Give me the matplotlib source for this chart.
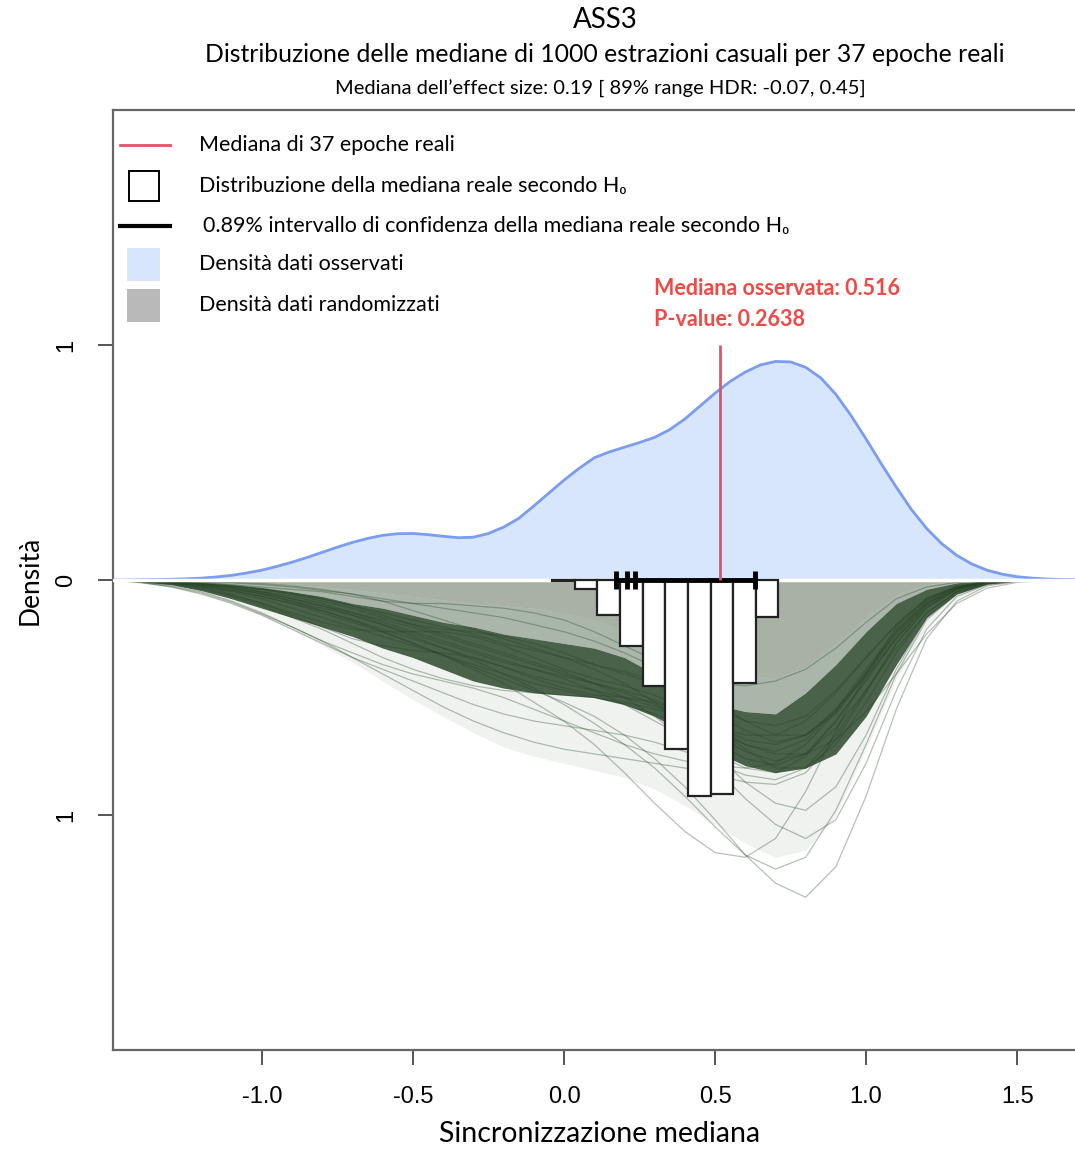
import matplotlib
matplotlib.use("Agg")
import matplotlib.pyplot as plt
from matplotlib.lines import Line2D
from matplotlib.patches import Rectangle

plt.rcParams['font.family'] = ['Lato', 'DejaVu Sans']

# observed density (top half)
obs_x = [-1.50, -1.45, -1.40, -1.35, -1.30, -1.25, -1.20, -1.15, -1.10, -1.05,
         -1.00, -0.95, -0.90, -0.85, -0.80, -0.75, -0.70, -0.65, -0.60, -0.55,
         -0.50, -0.45, -0.40, -0.35, -0.30, -0.25, -0.20, -0.15, -0.10, -0.05,
         0.00, 0.05, 0.10, 0.15, 0.20, 0.25, 0.30, 0.35, 0.40, 0.45,
         0.50, 0.55, 0.60, 0.65, 0.70, 0.75, 0.80, 0.85, 0.90, 0.95,
         1.00, 1.05, 1.10, 1.15, 1.20, 1.25, 1.30, 1.35, 1.40, 1.45,
         1.50, 1.55, 1.60, 1.65, 1.70]
obs_y = [0.000, 0.000, 0.001, 0.002, 0.003, 0.005, 0.008, 0.013, 0.020, 0.030,
         0.042, 0.058, 0.076, 0.096, 0.118, 0.140, 0.160, 0.177, 0.190, 0.197,
         0.198, 0.193, 0.186, 0.180, 0.182, 0.198, 0.225, 0.262, 0.315, 0.370,
         0.425, 0.475, 0.520, 0.545, 0.565, 0.585, 0.607, 0.640, 0.685, 0.740,
         0.795, 0.845, 0.885, 0.915, 0.930, 0.928, 0.905, 0.860, 0.790, 0.700,
         0.600, 0.495, 0.395, 0.300, 0.220, 0.155, 0.105, 0.068, 0.042, 0.025,
         0.014, 0.008, 0.004, 0.002, 0.001]

# randomized densities (drawn mirrored below zero)
rx = [-1.5, -1.4, -1.3, -1.2, -1.1, -1.0, -0.9, -0.8, -0.7, -0.6, -0.5,
      -0.4, -0.3, -0.2, -0.1, 0.0, 0.1, 0.2, 0.3, 0.4, 0.5, 0.6,
      0.7, 0.8, 0.9, 1.0, 1.1, 1.2, 1.3, 1.4, 1.5, 1.6, 1.7]
rand_top = [0, 0.001, 0.003, 0.006, 0.01, 0.015, 0.022, 0.03, 0.04, 0.055, 0.07,
            0.085, 0.10, 0.11, 0.12, 0.14, 0.17, 0.21, 0.26, 0.31, 0.36, 0.40,
            0.42, 0.37, 0.27, 0.16, 0.06, 0.02, 0.005, 0.001, 0, 0, 0]
core_hi = [0, 0.002, 0.006, 0.012, 0.02, 0.032, 0.05, 0.07, 0.10, 0.12, 0.15,
           0.18, 0.20, 0.23, 0.25, 0.27, 0.29, 0.33, 0.40, 0.47, 0.53, 0.56,
           0.57, 0.48, 0.36, 0.22, 0.10, 0.04, 0.012, 0.003, 0, 0, 0]
core_lo = [0, 0.008, 0.02, 0.045, 0.08, 0.12, 0.16, 0.20, 0.24, 0.29, 0.33,
           0.38, 0.43, 0.46, 0.48, 0.49, 0.50, 0.53, 0.58, 0.65, 0.73, 0.79,
           0.82, 0.80, 0.74, 0.58, 0.36, 0.16, 0.06, 0.018, 0.004, 0, 0]
rand_low = [0, 0.006, 0.02, 0.05, 0.09, 0.15, 0.21, 0.28, 0.35, 0.43, 0.51,
            0.58, 0.65, 0.71, 0.75, 0.78, 0.81, 0.84, 0.89, 0.96, 1.04, 1.12,
            1.18, 1.15, 1.00, 0.72, 0.42, 0.20, 0.08, 0.025, 0.007, 0.001, 0]

rand_curves = [
    [0, 0.002, 0.005, 0.01, 0.02, 0.03, 0.04, 0.05, 0.07, 0.09, 0.10, 0.10, 0.11, 0.12, 0.14, 0.17, 0.22,
     0.28, 0.34, 0.40, 0.44, 0.45, 0.43, 0.38, 0.29, 0.18, 0.08, 0.03, 0.01, 0.003, 0.001, 0, 0],
    [0, 0.004, 0.01, 0.02, 0.04, 0.06, 0.09, 0.12, 0.15, 0.19, 0.23, 0.27, 0.31, 0.35, 0.38, 0.41, 0.44,
     0.47, 0.51, 0.56, 0.62, 0.68, 0.70, 0.66, 0.55, 0.40, 0.23, 0.10, 0.035, 0.01, 0.002, 0, 0],
    [0, 0.006, 0.015, 0.03, 0.05, 0.08, 0.12, 0.16, 0.20, 0.24, 0.28, 0.32, 0.36, 0.40, 0.44, 0.47, 0.50,
     0.53, 0.57, 0.62, 0.69, 0.76, 0.79, 0.74, 0.60, 0.43, 0.25, 0.11, 0.04, 0.01, 0.003, 0, 0],
    [0, 0.01, 0.025, 0.05, 0.09, 0.14, 0.20, 0.26, 0.33, 0.40, 0.47, 0.54, 0.60, 0.65, 0.69, 0.72, 0.74,
     0.76, 0.78, 0.80, 0.83, 0.86, 0.87, 0.82, 0.68, 0.48, 0.27, 0.12, 0.04, 0.01, 0.003, 0, 0],
    [0, 0.004, 0.01, 0.02, 0.035, 0.06, 0.09, 0.13, 0.17, 0.22, 0.27, 0.32, 0.37, 0.42, 0.47, 0.52, 0.58,
     0.66, 0.76, 0.88, 1.02, 1.17, 1.29, 1.35, 1.22, 0.92, 0.55, 0.25, 0.09, 0.025, 0.006, 0.001, 0],
    [0, 0.005, 0.012, 0.025, 0.045, 0.07, 0.10, 0.14, 0.18, 0.22, 0.27, 0.32, 0.38, 0.44, 0.52, 0.60, 0.70,
     0.82, 0.95, 1.07, 1.16, 1.18, 1.10, 0.90, 0.64, 0.40, 0.20, 0.08, 0.025, 0.007, 0.002, 0, 0],
    [0, 0.005, 0.015, 0.03, 0.06, 0.10, 0.15, 0.20, 0.25, 0.28, 0.30, 0.31, 0.33, 0.37, 0.42, 0.46, 0.49,
     0.50, 0.52, 0.56, 0.63, 0.72, 0.80, 0.80, 0.70, 0.52, 0.31, 0.14, 0.05, 0.015, 0.004, 0, 0],
    [0, 0.001, 0.003, 0.006, 0.01, 0.015, 0.025, 0.04, 0.06, 0.09, 0.13, 0.17, 0.21, 0.25, 0.29, 0.33, 0.38,
     0.44, 0.52, 0.62, 0.74, 0.86, 0.95, 0.98, 0.88, 0.66, 0.38, 0.16, 0.05, 0.012, 0.003, 0, 0],
    [0, 0.008, 0.02, 0.04, 0.07, 0.11, 0.16, 0.21, 0.27, 0.33, 0.38, 0.42, 0.45, 0.47, 0.48, 0.49, 0.50,
     0.52, 0.55, 0.58, 0.62, 0.66, 0.66, 0.60, 0.48, 0.33, 0.19, 0.08, 0.03, 0.008, 0.002, 0, 0],
    [0, 0.003, 0.008, 0.016, 0.03, 0.05, 0.07, 0.10, 0.14, 0.18, 0.22, 0.26, 0.30, 0.34, 0.38, 0.42, 0.47,
     0.53, 0.60, 0.67, 0.74, 0.80, 0.82, 0.75, 0.60, 0.42, 0.24, 0.10, 0.035, 0.01, 0.002, 0, 0],
    [0, 0.003, 0.008, 0.016, 0.03, 0.05, 0.08, 0.11, 0.15, 0.19, 0.24, 0.29, 0.34, 0.40, 0.46, 0.53, 0.61,
     0.70, 0.80, 0.92, 1.05, 1.17, 1.23, 1.18, 0.98, 0.70, 0.40, 0.17, 0.06, 0.015, 0.004, 0, 0],
    [0, 0.003, 0.008, 0.015, 0.025, 0.04, 0.06, 0.08, 0.11, 0.14, 0.17, 0.20, 0.23, 0.27, 0.30, 0.33, 0.36,
     0.39, 0.43, 0.48, 0.54, 0.60, 0.62, 0.58, 0.47, 0.33, 0.19, 0.08, 0.03, 0.008, 0.002, 0, 0],
    [0, 0.002, 0.004, 0.008, 0.012, 0.02, 0.03, 0.045, 0.06, 0.08, 0.10, 0.12, 0.14, 0.16, 0.19, 0.22, 0.26,
     0.31, 0.37, 0.44, 0.52, 0.60, 0.66, 0.66, 0.57, 0.40, 0.22, 0.09, 0.03, 0.008, 0.002, 0, 0],
    [0, 0.006, 0.016, 0.035, 0.065, 0.10, 0.14, 0.18, 0.21, 0.22, 0.22, 0.22, 0.24, 0.28, 0.33, 0.38, 0.42,
     0.45, 0.49, 0.55, 0.63, 0.70, 0.73, 0.68, 0.55, 0.38, 0.21, 0.09, 0.03, 0.008, 0.002, 0, 0],
    [0, 0.002, 0.006, 0.012, 0.022, 0.036, 0.055, 0.08, 0.11, 0.15, 0.19, 0.23, 0.27, 0.31, 0.35, 0.39, 0.44,
     0.50, 0.58, 0.68, 0.80, 0.93, 1.04, 1.10, 1.02, 0.78, 0.47, 0.21, 0.07, 0.02, 0.005, 0.001, 0],
    [0, 0.012, 0.03, 0.06, 0.10, 0.15, 0.21, 0.27, 0.33, 0.38, 0.43, 0.48, 0.53, 0.57, 0.60, 0.62, 0.64,
     0.66, 0.69, 0.73, 0.78, 0.83, 0.85, 0.80, 0.66, 0.47, 0.27, 0.12, 0.04, 0.01, 0.002, 0, 0],
    [0, 0.004, 0.01, 0.02, 0.035, 0.055, 0.08, 0.11, 0.14, 0.17, 0.20, 0.24, 0.28, 0.32, 0.36, 0.40, 0.44,
     0.48, 0.53, 0.58, 0.64, 0.70, 0.74, 0.74, 0.68, 0.56, 0.40, 0.23, 0.10, 0.035, 0.01, 0.002, 0],
    [0, 0.003, 0.007, 0.014, 0.025, 0.04, 0.06, 0.09, 0.12, 0.16, 0.19, 0.21, 0.22, 0.24, 0.27, 0.31, 0.36,
     0.40, 0.44, 0.50, 0.57, 0.64, 0.69, 0.66, 0.56, 0.41, 0.25, 0.11, 0.04, 0.01, 0.002, 0, 0],
    [0, 0.01, 0.028, 0.055, 0.095, 0.145, 0.20, 0.26, 0.31, 0.36, 0.40, 0.43, 0.46, 0.50, 0.55, 0.60, 0.65,
     0.70, 0.74, 0.77, 0.79, 0.80, 0.78, 0.70, 0.56, 0.39, 0.22, 0.10, 0.035, 0.01, 0.002, 0, 0],
    [0, 0.005, 0.012, 0.025, 0.045, 0.07, 0.10, 0.13, 0.17, 0.21, 0.25, 0.29, 0.33, 0.37, 0.41, 0.44, 0.47,
     0.50, 0.54, 0.59, 0.66, 0.73, 0.77, 0.74, 0.63, 0.47, 0.29, 0.14, 0.05, 0.015, 0.004, 0, 0],
]

# histogram of medians under H0
hist_edges = [-0.04, 0.035, 0.11, 0.185, 0.26, 0.335, 0.41, 0.485, 0.56, 0.635, 0.71]
hist_heights = [0.005, 0.04, 0.15, 0.28, 0.45, 0.72, 0.92, 0.91, 0.44, 0.157]

ci_lo, ci_hi = 0.172, 0.632
ci_marks = [0.172, 0.209, 0.235, 0.632]
obs_median = 0.516
obs_median_top = 1.0

W, H = 1075, 1153
fig = plt.figure(figsize=(W / 100, H / 100), dpi=100)
ax = fig.add_axes([113 / W, 103 / H, 973 / W, 940 / H])

neg = lambda v: [-a for a in v]

ax.fill_between(obs_x, 0, obs_y, color='#d7e6fa', lw=0, zorder=1)
ax.plot(obs_x, obs_y, color='#7b9cf0', lw=2, zorder=2)

ax.fill_between(rx, 0, neg(rand_top), color='#a9b1a4', lw=0, zorder=1)
ax.fill_between(rx, neg(rand_top), neg(rand_low), color='#3c5a3c', alpha=0.08, lw=0, zorder=1.5)
ax.fill_between(rx, neg(rand_top), neg(core_hi), color='#2a472a', alpha=0.35, lw=0, zorder=1.5)
ax.fill_between(rx, neg(core_hi), neg(core_lo), color='#1c381c', alpha=0.78, lw=0, zorder=1.6)
for c in rand_curves:
    ax.plot(rx, neg(c), color='#234223', alpha=0.33, lw=0.9, zorder=2)

ax.axhline(0, color='white', lw=2.5, zorder=3)

widths = [b - a for a, b in zip(hist_edges[:-1], hist_edges[1:])]
ax.bar(hist_edges[:-1], neg(hist_heights), width=widths, align='edge',
       color='white', edgecolor='#222222', lw=1.6, zorder=4)

ax.hlines(0, ci_lo, ci_hi, color='black', lw=3.5, zorder=5)
ax.vlines(ci_marks, -0.04, 0.04, color='black', lw=3.5, zorder=5)

ax.vlines(obs_median, 0, obs_median_top, color='#e6506a', lw=2, zorder=6)
ax.text(0.298, 1.24, 'Mediana osservata: 0.516', color='#ef4a48', fontsize=15.5,
        fontweight='bold', va='center', ha='left')
ax.text(0.298, 1.11, 'P-value: 0.2638', color='#ef4a48', fontsize=15.5,
        fontweight='bold', va='center', ha='left')

ax.set_xlim(-1.493, 1.728)
ax.set_ylim(-2.0, 2.0)
ax.set_xticks([-1.0, -0.5, 0.0, 0.5, 1.0, 1.5])
ax.set_xticklabels(['-1.0', '-0.5', '0.0', '0.5', '1.0', '1.5'],
                   family='Liberation Sans', fontsize=17)
ax.set_yticks([-1, 0, 1])
ax.set_yticklabels(['1', '0', '1'], family='Liberation Sans', fontsize=17,
                   rotation=90, va='center')
ax.tick_params(direction='out', length=11, width=1.4, color='#555555', pad=15)
for s in ax.spines.values():
    s.set_color('#666666')
    s.set_linewidth(1.6)

ax.set_xlabel('Sincronizzazione mediana', fontsize=20.5, labelpad=9)
ax.set_ylabel('Densità', fontsize=19, labelpad=9)

fig.text(605 / W, 1 - 20 / H, 'ASS3', fontsize=20, ha='center', va='center')
fig.text(605 / W, 1 - 55 / H, 'Distribuzione delle mediane di 1000 estrazioni casuali per 37 epoche reali',
         fontsize=17.8, ha='center', va='center')
fig.text(600 / W, 1 - 89 / H, 'Mediana dell\u2019effect size: 0.19 [ 89% range HDR: -0.07, 0.45]',
         fontsize=14.5, ha='center', va='center')

# legend drawn by hand, in figure pixels
def fxy(px, py):
    return px / W, 1 - py / H

legend_rows = [
    ('line', '#e6506a', 'Mediana di 37 epoche reali', 145, 199),
    ('box', 'white', 'Distribuzione della mediana reale secondo H\u2080', 186, 199),
    ('line', 'black', '0.89% intervallo di confidenza della mediana reale secondo H\u2080', 226, 203),
    ('fill', '#d7e6fa', 'Densità dati osservati', 264, 199),
    ('fill', '#b9b9b9', 'Densità dati randomizzati', 305, 199),
]
for kind, col, label, py, tx in legend_rows:
    if kind == 'line':
        (x0, y0), (x1, _) = fxy(120, py), fxy(170, py)
        fig.add_artist(Line2D([x0, x1], [y0, y0], color=col,
                              lw=2 if col != 'black' else 3, transform=fig.transFigure))
    elif kind == 'box':
        x0, y0 = fxy(129, py + 15)
        fig.add_artist(Rectangle((x0, y0), 30 / W, 30 / H, facecolor=col, edgecolor='black',
                                 lw=1.4, transform=fig.transFigure))
    else:
        x0, y0 = fxy(127, py + 17)
        fig.add_artist(Rectangle((x0, y0), 33 / W, 33 / H, facecolor=col, lw=0,
                                 transform=fig.transFigure))
    fig.text(tx / W, 1 - py / H, label, fontsize=15.5, ha='left', va='center',
             family=['Lato', 'DejaVu Sans'])

fig.savefig('out.png', dpi=100)
